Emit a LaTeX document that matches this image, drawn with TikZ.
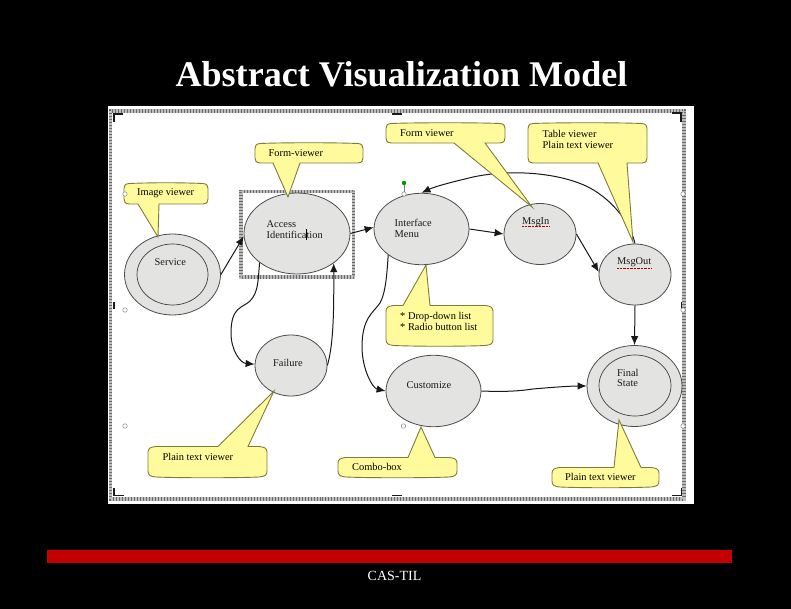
\documentclass[tikz,border=0pt]{standalone}
\usepackage{fontspec}
\setmainfont{Liberation Serif}
\usetikzlibrary{arrows.meta,shapes.geometric,patterns}
\definecolor{callfill}{HTML}{FFFB9C}
\definecolor{callline}{HTML}{7E7C3C}
\definecolor{statefill}{HTML}{E3E3E1}
\definecolor{bar}{HTML}{C40000}
\tikzset{
  x=1pt,y=-1pt,
  state/.style={ellipse,draw=black!70,line width=.8pt,fill=statefill,inner sep=0pt,minimum width=#1},
  inner state/.style={ellipse,draw=black!75,line width=.7pt,inner sep=0pt,minimum width=#1},
  link/.style={draw=black!90,line width=1pt,-{Latex[length=9pt,width=7.5pt]}},
  slabel/.style={font=\fontsize{10.4}{10.8}\selectfont,text=black!90,align=left,inner sep=0pt,anchor=west},
  clabel/.style={font=\fontsize{10.4}{11}\selectfont,text=black,align=left,inner sep=0pt,anchor=west},
  callout/.style={draw=callline,line width=.9pt,fill=callfill,line join=miter},
  handle/.style={circle,draw=black!55,fill=white,line width=.4pt,inner sep=0pt,minimum size=4.5pt},
  corner/.style={draw=black!90,line width=1.4pt},
  squiggle/.style={draw=red!70!black,line width=.4pt,densely dotted},
  hatchbase/.style={draw=black!58,line width=#1},
  hatchover/.style={draw=white,opacity=.55,line width=#1,dash pattern=on .7pt off .8pt},
}
% pointer below: x1 y1 x2 y2 bx1 bx2 tipx tipy
\newcommand{\calloutdown}[8]{%
  \draw[callout] (#1+5,#2) .. controls (#1+30,#2-1) and (#3-30,#2-1) .. (#3-5,#2)
    .. controls (#3-1,#2+.5) and (#3,#2+2) .. (#3,#2+5)
    -- (#3,#4-5) .. controls (#3,#4-2) and (#3-1,#4-.5) .. (#3-5,#4)
    -- (#6,#4) -- (#7,#8) -- (#5,#4) -- (#1+5,#4)
    .. controls (#1+1,#4-.5) and (#1,#4-2) .. (#1,#4-5)
    -- (#1,#2+5) .. controls (#1,#2+2) and (#1+1,#2+.5) .. (#1+5,#2) -- cycle;}
% pointer above
\newcommand{\calloutup}[8]{%
  \draw[callout] (#1+8,#2) -- (#5,#2) -- (#7,#8) -- (#6,#2) -- (#3-8,#2)
    .. controls (#3-2,#2+.5) and (#3,#2+2) .. (#3,#2+6)
    -- (#3,#4-6) .. controls (#3,#4-2) and (#3-2,#4-.5) .. (#3-8,#4)
    .. controls (#3-30,#4+1) and (#1+30,#4+1) .. (#1+8,#4)
    .. controls (#1+2,#4-.5) and (#1,#4-2) .. (#1,#4-6)
    -- (#1,#2+6) .. controls (#1,#2+2) and (#1+2,#2+.5) .. (#1+8,#2) -- cycle;}
\begin{document}
\begin{tikzpicture}
\useasboundingbox (0,0) rectangle (791,609);
\fill[black] (0,0) rectangle (791,609);
% panel
\fill[white] (108,106) rectangle (694,504);
\draw[hatchbase=3.6pt] (110.5,111) rectangle (684,499);
\draw[hatchover=3.6pt] (110.5,111) rectangle (684,499);
% corner marks
\draw[corner] (123,114) -- (114,114) -- (114,122);
\draw[corner] (672,113) -- (681,113) -- (681,122);
\draw[corner] (114,488) -- (114,495.5) -- (124,495.5);
\draw[corner] (672,495.5) -- (681.5,495.5) -- (681.5,488);
\draw[corner] (392,114) -- (402,114);
\draw[corner] (392,495.5) -- (402,495.5);
\draw[corner] (114,302) -- (114,309);
\draw[corner] (681.5,302) -- (681.5,310);
% selection frame
\draw[hatchbase=3.2pt] (241,191.5) rectangle (353.5,277);
\draw[hatchover=3.2pt] (241,191.5) rectangle (353.5,277);
% states
\node[state=96pt,minimum height=81pt] (service) at (172.5,274.5) {};
\node[inner state=71pt,minimum height=61pt] (serviceIn) at (172.5,274.5) {};
\node[state=106pt,minimum height=81pt] (access) at (297,233.5) {};
\node[state=95pt,minimum height=71.5pt] (iface) at (421.5,229) {};
\node[state=72pt,minimum height=61pt] (msgin) at (540,234) {};
\node[state=72pt,minimum height=61pt] (msgout) at (635,274.5) {};
\node[state=72pt,minimum height=61pt] (failure) at (291,365.5) {};
\node[state=95pt,minimum height=71.5pt] (customize) at (433.5,391) {};
\node[state=95pt,minimum height=81pt] (final) at (634.5,386) {};
\node[inner state=72pt,minimum height=61pt] (finalIn) at (635,385.5) {};
% connectors
\draw[link] (service.0) -- (access.183);
\draw[link] (access.0) -- (iface.178);
\draw[link] (iface.0) -- (msgin.180);
\draw[link] (msgin.0) -- (msgout.176);
\draw[link] (msgout.90) .. controls (630,222) and (612,200) .. (590,188)
  .. controls (560,172) and (505,168) .. (465,179) .. controls (448,183) and (434,187) .. (iface.90);
\draw[link] (msgout.270) -- (final.90);
\draw[link] (access.218) .. controls (258,278) and (259,292) .. (250,301)
  .. controls (243,308) and (231,306) .. (231,333) .. controls (231,350) and (240,363) .. (failure.178);
\draw[link] (failure.0) .. controls (333,345) and (334,318) .. (access.321);
\draw[link] (iface.218) .. controls (387,272) and (386,292) .. (380,303)
  .. controls (373,313) and (362,318) .. (362,347) .. controls (362,368) and (372,388) .. (customize.180);
\draw[link] (customize.0) .. controls (505,392) and (520,391) .. (533,389)
  .. controls (550,387.5) and (570,386) .. (final.180);
% callouts
\calloutdown{124}{183.5}{208}{204}{138}{159}{158}{237}
\calloutdown{255}{143.5}{363}{163}{273}{300}{288}{197}
\calloutdown{386}{123.5}{505}{143}{454}{485}{532}{207}
\calloutdown{528}{123.5}{647}{163}{598}{627}{633}{242}
\calloutup{386}{305.5}{493}{345.5}{403}{430}{426}{265}
\calloutup{148}{446.5}{267}{477}{218}{248}{274}{391}
\calloutup{338}{457.5}{457}{477}{408}{435}{421}{427}
\calloutup{552}{467.5}{659}{487}{614}{641}{619}{420}
% state labels
\node[slabel] (lservice) at (154.5,262) {Service};
\node[slabel] (laccess) at (266.5,229.5) {Access\\Identification};
\node[slabel] (liface) at (394.5,228) {Interface\\Menu};
\node[slabel] (lmsgin) at (522,222) {MsgIn};
\node[slabel] (lmsgout) at (617,262) {MsgOut};
\node[slabel] (lfailure) at (273,363) {Failure};
\node[slabel] (lcustomize) at (406.5,385) {Customize};
\node[slabel] (lfinal) at (617,378) {Final\\State};
\draw[black,line width=.8pt] (306.5,229) -- (306.5,240);
\draw[squiggle] (522,226.5) -- (549,226.5);
\draw[squiggle] (617,268) -- (651,268);
% callout labels
\node[clabel] (cimage) at (137,193.5) {Image viewer};
\node[clabel] (cform) at (268.5,153.5) {Form-viewer};
\node[clabel] (cform2) at (400,133) {Form viewer};
\node[clabel] (ctable) at (542.5,139) {Table viewer\\Plain text viewer};
\node[clabel] (cdrop) at (400,321) {* Drop-down list\\* Radio button list};
\node[clabel] (cplain) at (162.5,457) {Plain text viewer};
\node[clabel] (ccombo) at (352,466.5) {Combo-box};
\node[clabel] (cplain2) at (565,477) {Plain text viewer};
% handles
\node[handle] (h1) at (125,194) {};
\node[handle] (h2) at (125,310) {};
\node[handle] (h3) at (125,426) {};
\node[handle] (h4) at (403.5,426) {};
\node[handle] (h5) at (683,194) {};
\node[handle] (h6) at (683,310) {};
\node[handle] (h7) at (683,426) {};
\node[handle] (h8) at (404,194) {};
\node[circle,fill=green!60!black,inner sep=0pt,minimum size=4.5pt] (h9) at (404,183) {};
\draw[black!50,line width=.5pt] (h9) -- (h8);
% title and footer
\node[font=\bfseries\fontsize{36.1}{40}\selectfont,text=white,inner sep=0pt] (title) at (401.5,74) {Abstract Visualization Model};
\fill[bar] (47,550) rectangle (732,563);
\node[font=\fontsize{14}{16}\selectfont,text=white,inner sep=0pt] (footer) at (394.5,576) {CAS-TIL};
\end{tikzpicture}
\end{document}
